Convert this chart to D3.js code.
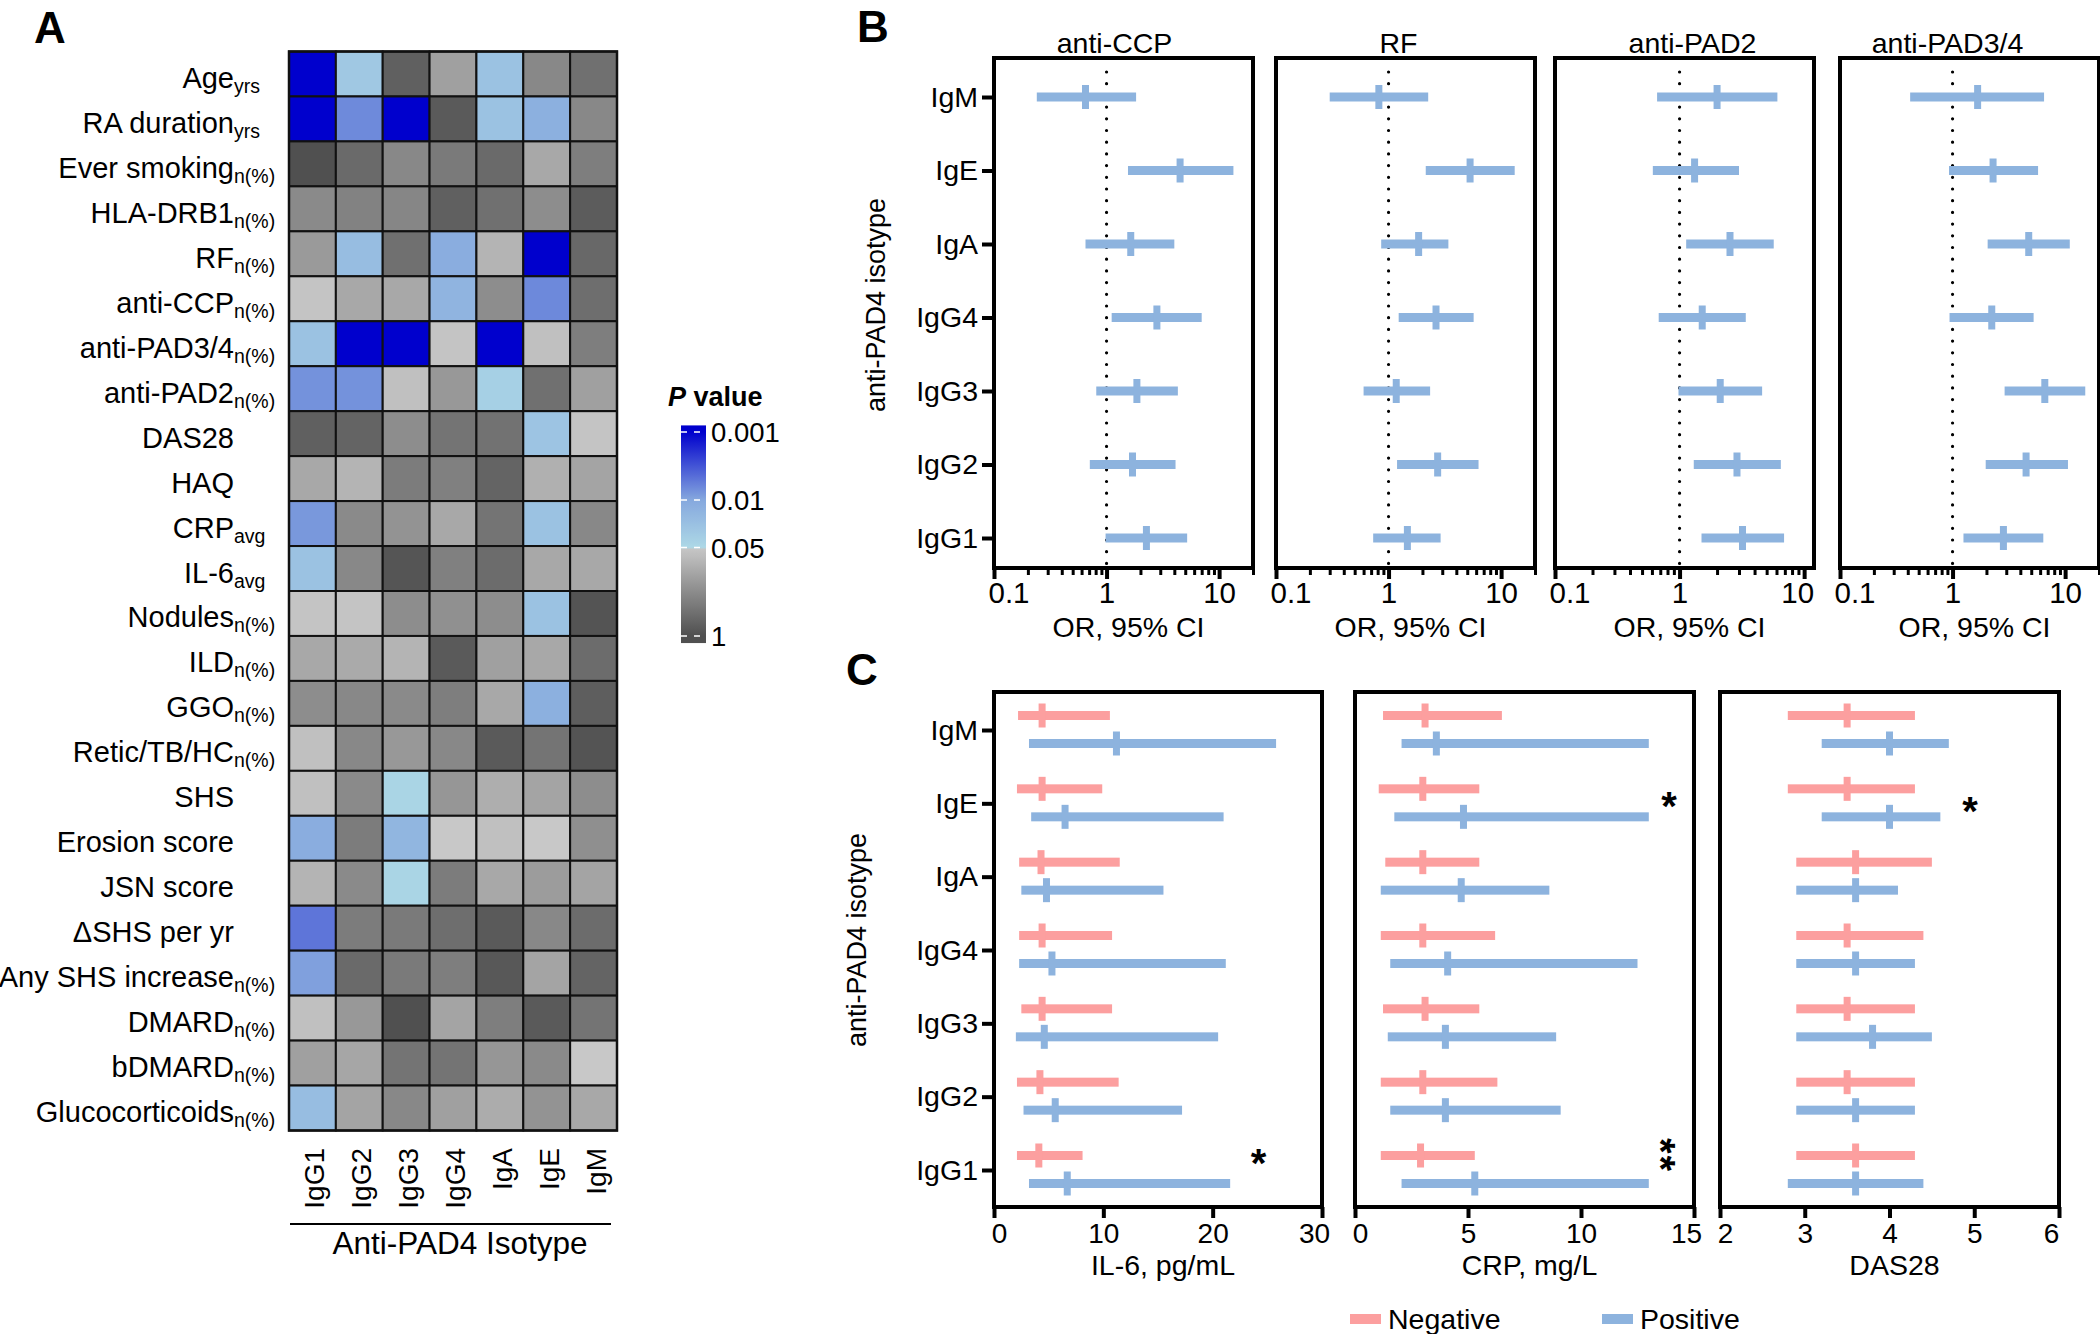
<!DOCTYPE html>
<html>
<head>
<meta charset="utf-8">
<script src="https://cdn.jsdelivr.net/npm/d3@7"></script>
<style>
body { margin:0; background:#fff; }
svg text { font-family: "Liberation Sans", Arial, sans-serif; fill:#000; }
</style>
</head>
<body>
<svg id="fig"></svg>
<script>
// ---------- data: panel A (p values, rows x isotypes) ----------
var isotypes = ["IgG1","IgG2","IgG3","IgG4","IgA","IgE","IgM"];
var clinicalVars = ["Age","RA duration","Ever smoking","HLA-DRB1","RF","anti-CCP","anti-PAD3/4","anti-PAD2",
  "DAS28","HAQ","CRP","IL-6","Nodules","ILD","GGO","Retic/TB/HC","SHS","Erosion score","JSN score",
  "\u0394SHS per yr","Any SHS increase","DMARD","bDMARD","Glucocorticoids"];
var clinicalSubs = ["yrs","yrs","n(%)","n(%)","n(%)","n(%)","n(%)","n(%)","","","avg","avg",
  "n(%)","n(%)","n(%)","n(%)","","","","","n(%)","n(%)","n(%)","n(%)"];
var pValues = [
  [0.001, 0.029, 0.67, 0.136, 0.024, 0.247, 0.45],
  [0.001, 0.0066, 0.001, 0.78, 0.024, 0.013, 0.247],
  [1.0, 0.52, 0.247, 0.35, 0.52, 0.111, 0.317],
  [0.235, 0.287, 0.26, 0.67, 0.45, 0.22, 0.74],
  [0.158, 0.02, 0.45, 0.012, 0.082, 0.001, 0.55],
  [0.055, 0.111, 0.111, 0.015, 0.22, 0.0065, 0.47],
  [0.024, 0.001, 0.001, 0.055, 0.001, 0.061, 0.317],
  [0.0074, 0.0074, 0.061, 0.166, 0.038, 0.45, 0.136],
  [0.67, 0.61, 0.22, 0.41, 0.43, 0.026, 0.055],
  [0.111, 0.082, 0.33, 0.30, 0.61, 0.091, 0.123],
  [0.008, 0.235, 0.19, 0.111, 0.41, 0.024, 0.247],
  [0.024, 0.247, 0.88, 0.30, 0.50, 0.111, 0.111],
  [0.055, 0.055, 0.22, 0.20, 0.22, 0.024, 0.91],
  [0.111, 0.106, 0.082, 0.78, 0.136, 0.111, 0.50],
  [0.22, 0.247, 0.235, 0.317, 0.111, 0.013, 0.70],
  [0.061, 0.247, 0.166, 0.247, 0.78, 0.41, 0.91],
  [0.061, 0.235, 0.045, 0.174, 0.096, 0.123, 0.22],
  [0.012, 0.33, 0.016, 0.05, 0.061, 0.05, 0.21],
  [0.082, 0.235, 0.045, 0.33, 0.111, 0.15, 0.123],
  [0.005, 0.33, 0.35, 0.47, 0.78, 0.247, 0.50],
  [0.009, 0.52, 0.35, 0.317, 0.82, 0.123, 0.61],
  [0.061, 0.166, 1.0, 0.123, 0.317, 0.78, 0.41],
  [0.136, 0.117, 0.41, 0.41, 0.174, 0.235, 0.05],
  [0.02, 0.123, 0.247, 0.136, 0.10, 0.19, 0.111]
];
var pTicks = [0.001, 0.01, 0.05, 1];
var pTickLabels = ["0.001", "0.01", "0.05", "1"];

// ---------- data: panel B (odds ratio, lower, upper) ----------
var forestRows = ["IgM","IgE","IgA","IgG4","IgG3","IgG2","IgG1"];
var orTitles = ["anti-CCP","RF","anti-PAD2","anti-PAD3/4"];
var orAntiCCP = [[0.65,0.24,1.83],[4.5,1.55,13.4],[1.64,0.65,4.0],[2.8,1.11,7.0],[1.86,0.81,4.3],[1.7,0.71,4.1],[2.26,0.98,5.2]];
var orRF      = [[0.82,0.30,2.25],[5.3,2.14,13.2],[1.85,0.86,3.4],[2.64,1.23,5.7],[1.17,0.60,2.34],[2.73,1.19,6.3],[1.47,0.73,2.9]];
var orPAD2    = [[2.0,0.66,6.1],[1.32,0.61,3.0],[2.54,1.13,5.7],[1.52,0.68,3.4],[2.12,0.98,4.6],[2.89,1.3,6.5],[3.2,1.5,6.9]];
var orPAD34   = [[1.67,0.42,6.5],[2.29,0.93,5.75],[4.75,2.05,11.0],[2.23,0.94,5.25],[6.6,2.9,15.1],[4.5,1.97,10.6],[2.83,1.25,6.4]];
var orMajorTicks = [0.1, 1, 10];
var orMinorTicks = [0.2,0.3,0.4,0.5,0.6,0.7,0.8,0.9,2,3,4,5,6,7,8,9,20];

// ---------- data: panel C (centre, lower, upper) ----------
var il6Neg = [[4.4,2.2,10.6],[4.4,2.1,9.9],[4.3,2.3,11.5],[4.4,2.3,10.8],[4.4,2.5,10.8],[4.2,2.1,11.4],[4.1,2.1,8.1]];
var il6Pos = [[11.2,3.2,25.8],[6.5,3.4,21.0],[4.8,2.5,15.5],[5.3,2.3,21.2],[4.6,2.0,20.5],[5.6,2.7,17.2],[6.7,3.2,21.6]];
var crpNeg = [[3.1,1.24,6.5],[3.0,1.05,5.5],[3.0,1.34,5.5],[3.0,1.14,6.2],[3.1,1.24,5.5],[3.0,1.14,6.3],[2.9,1.14,5.3]];
var crpPos = [[3.6,2.06,13.0],[4.8,1.74,13.0],[4.7,1.14,8.6],[4.1,1.56,12.5],[4.0,1.45,8.9],[4.0,1.56,9.1],[5.3,2.06,13.0]];
var das28Neg = [[3.5,2.8,4.3],[3.5,2.8,4.3],[3.6,2.9,4.5],[3.5,2.9,4.4],[3.5,2.9,4.3],[3.5,2.9,4.3],[3.6,2.9,4.3]];
var das28Pos = [[4.0,3.2,4.7],[4.0,3.2,4.6],[3.6,2.9,4.1],[3.6,2.9,4.3],[3.8,2.9,4.5],[3.6,2.9,4.3],[3.6,2.8,4.4]];
var il6Sig = [["IgG1","*"]];
var crpSig = [["IgE","*"],["IgG1","**"]];
var das28Sig = [["IgE","*"]];
var legendLabels = ["Negative","Positive"];

var negColor = "#fc9f9f", posColor = "#8db3de";

var svg = d3.select("#fig").attr("width", 2100).attr("height", 1334);

function panelLetter(t, x, y){
  svg.append("text").attr("x", x).attr("y", y).attr("font-size", 44)
    .attr("font-weight", "bold").text(t);
}
panelLetter("A", 34, 43);
panelLetter("B", 857, 42);
panelLetter("C", 846, 685);

// ================= Panel A : heatmap =================
var blueScale = d3.scaleLog().domain([0.001, 0.01, 0.05])
  .range(["#0000cd", "#86a8de", "#add8e6"]).clamp(true);
var grayScale = d3.scaleLog().domain([0.05, 1])
  .range(["#c8c8c8", "#505050"]).clamp(true);
var pColor = function(p){ return p < 0.05 ? blueScale(p) : grayScale(p); };

var hx = d3.scaleBand().domain(isotypes).range([289, 617]);
var hy = d3.scaleBand().domain(clinicalVars).range([51.5, 1130.5]);

var cells = [];
clinicalVars.forEach(function(v, i){
  isotypes.forEach(function(iso, j){ cells.push({v: v, iso: iso, p: pValues[i][j]}); });
});
var heat = svg.append("g");
heat.selectAll("rect").data(cells).enter().append("rect")
  .attr("x", function(d){ return hx(d.iso); })
  .attr("y", function(d){ return hy(d.v); })
  .attr("width", hx.bandwidth()).attr("height", hy.bandwidth())
  .attr("fill", function(d){ return pColor(d.p); })
  .attr("stroke", "#111").attr("stroke-width", 2);
heat.append("rect").attr("x", 289).attr("y", 51.5).attr("width", 328).attr("height", 1079)
  .attr("fill", "none").attr("stroke", "#111").attr("stroke-width", 2.5);

// row labels with subscripts
clinicalVars.forEach(function(v, i){
  var yb = hy(v) + hy.bandwidth() / 2 + 14;
  svg.append("text").attr("x", 234).attr("y", yb).attr("text-anchor", "end")
    .attr("font-size", 29).text(v);
  if (clinicalSubs[i]) {
    svg.append("text").attr("x", 234).attr("y", yb + 5).attr("font-size", 19.5).text(clinicalSubs[i]);
  }
});
// column labels
svg.selectAll("text.col").data(isotypes).enter().append("text")
  .attr("class", "col").attr("text-anchor", "end").attr("font-size", 28)
  .attr("transform", function(d){ return "translate(" + (hx(d) + hx.bandwidth()/2 + 12) + ",1148) rotate(-90)"; })
  .text(function(d){ return d; });
svg.append("line").attr("x1", 290).attr("x2", 611).attr("y1", 1224).attr("y2", 1224)
  .attr("stroke", "#000").attr("stroke-width", 2);
svg.append("text").attr("x", 460).attr("y", 1254).attr("text-anchor", "middle")
  .attr("font-size", 31.5).text("Anti-PAD4 Isotype");

// colour bar
var cbY = d3.scaleLog().domain([0.001, 1]).range([432, 636]);
var defs = svg.append("defs");
var grad = defs.append("linearGradient").attr("id", "pgrad")
  .attr("x1", 0).attr("x2", 0).attr("y1", 0).attr("y2", 1);
var cbTop = 0.0008, cbBot = 1.27;
d3.range(0, 101).forEach(function(k){
  var lp = Math.log10(cbTop) + (Math.log10(cbBot) - Math.log10(cbTop)) * k / 100;
  grad.append("stop").attr("offset", k + "%").attr("stop-color", pColor(Math.pow(10, lp)));
});
svg.append("rect").attr("x", 681).attr("y", cbY(cbTop)).attr("width", 25)
  .attr("height", cbY(cbBot) - cbY(cbTop)).attr("fill", "url(#pgrad)");
var cbt = svg.append("g");
pTicks.forEach(function(p, i){
  cbt.append("line").attr("x1", 681).attr("x2", 706).attr("y1", cbY(p)).attr("y2", cbY(p))
    .attr("stroke", "#fff").attr("stroke-width", 1.5).attr("stroke-dasharray", "6,7");
  cbt.append("text").attr("x", 711).attr("y", cbY(p) + 10).attr("font-size", 27.5).text(pTickLabels[i]);
});
var pt = svg.append("text").attr("x", 668).attr("y", 406).attr("font-size", 27).attr("font-weight", "bold");
pt.append("tspan").attr("font-style", "italic").text("P");
pt.append("tspan").text(" value");

// ================= forest panels (B, C) =================
function forestPanel(cfg){
  var g = svg.append("g");
  var x = (cfg.log ? d3.scaleLog() : d3.scaleLinear()).domain(cfg.domain).range([cfg.left, cfg.right]);
  var y = d3.scalePoint().domain(forestRows).range(cfg.rows);

  if (cfg.refLine) {
    g.append("line").attr("x1", x(1)).attr("x2", x(1)).attr("y1", cfg.top + 14).attr("y2", cfg.bottom)
      .attr("stroke", "#000").attr("stroke-width", 3.2).attr("stroke-linecap", "round")
      .attr("stroke-dasharray", "0,11.7");
  }
  cfg.series.forEach(function(s){
    var sg = g.append("g");
    sg.selectAll("rect.ci").data(s.data).enter().append("rect").attr("class", "ci")
      .attr("x", function(d){ return x(d[1]); })
      .attr("width", function(d){ return x(d[2]) - x(d[1]); })
      .attr("y", function(d, i){ return y(forestRows[i]) + s.dy - 4.5; })
      .attr("height", 9).attr("fill", s.color);
    sg.selectAll("rect.pt").data(s.data).enter().append("rect").attr("class", "pt")
      .attr("x", function(d){ return x(d[0]) - 3.5; })
      .attr("width", 7)
      .attr("y", function(d, i){ return y(forestRows[i]) + s.dy - 12; })
      .attr("height", 24).attr("fill", s.color);
  });

  g.append("rect").attr("x", cfg.left).attr("y", cfg.top)
    .attr("width", cfg.right - cfg.left).attr("height", cfg.bottom - cfg.top)
    .attr("fill", "none").attr("stroke", "#000").attr("stroke-width", 4);

  // x axis
  var ax = g.append("g").attr("transform", "translate(0," + cfg.bottom + ")")
    .call(d3.axisBottom(x).tickValues(cfg.ticks).tickFormat(cfg.fmt).tickSize(11));
  ax.select(".domain").remove();
  ax.selectAll("line").attr("stroke-width", 4);
  ax.selectAll("text").attr("dy", null).attr("y", cfg.labelDy).attr("font-size", cfg.tickFont)
    .attr("x", function(d){
      if (d === cfg.ticks[0]) return cfg.firstShift;
      if (cfg.right - x(d) < 20) return cfg.lastShift;
      return 0;
    });
  if (cfg.log) {
    ax.selectAll("text").filter(function(d){ return d === cfg.domain[0]; })
      .attr("text-anchor", "start").attr("x", -6);
    var mx = g.append("g").attr("transform", "translate(0," + cfg.bottom + ")")
      .call(d3.axisBottom(x).tickValues(orMinorTicks.filter(function(v){ return v <= cfg.domain[1]; }))
        .tickFormat("").tickSize(7));
    mx.select(".domain").remove();
    mx.selectAll("line").attr("stroke-width", 3);
  }
  g.append("text").attr("x", (cfg.left + cfg.right) / 2 + 5).attr("y", cfg.bottom + cfg.titleDy)
    .attr("text-anchor", "middle").attr("font-size", 28.5).text(cfg.xlabel);
  if (cfg.title) {
    g.append("text").attr("x", (cfg.left + cfg.right) / 2 + cfg.titleShift).attr("y", cfg.top - 5)
      .attr("text-anchor", "middle").attr("font-size", 28.5).text(cfg.title);
  }
  if (cfg.yAxis) {
    var ay = g.append("g").attr("transform", "translate(" + (cfg.left - 1) + ",0)")
      .call(d3.axisLeft(y).tickSize(11).tickPadding(4));
    ay.select(".domain").remove();
    ay.selectAll("line").attr("stroke-width", 4);
    ay.selectAll("text").attr("font-size", 28.5);
    g.append("text").attr("transform", "translate(" + cfg.yTitleX + "," + cfg.yTitleY + ") rotate(-90)")
      .attr("text-anchor", "middle").attr("font-size", 27).text("anti-PAD4 isotype");
  }
  if (cfg.sig) {
    cfg.sig.forEach(function(s){
      var sx = x(cfg.starX);
      if (s[1].length > 1) {
        // stacked stars drawn as one rotated text
        g.append("text").attr("transform", "translate(" + (sx - 22) + "," + (y(s[0]) - 14.5) + ") rotate(90)")
          .attr("text-anchor", "middle").attr("font-size", 40).attr("font-weight", "bold")
          .attr("letter-spacing", 2).text(s[1]);
      } else {
        g.append("text").attr("x", sx).attr("y", y(s[0]) + cfg.starDy + 22).attr("text-anchor", "middle")
          .attr("font-size", 40).attr("font-weight", "bold").text(s[1]);
      }
    });
  }
}

var orData = [orAntiCCP, orRF, orPAD2, orPAD34];
var bLefts = [994, 1276, 1555, 1840];
var bDomainMax = [20, 20, 12, 20];
var bTitleShift = [-9, -7, 8, -22];
orData.forEach(function(d, i){
  forestPanel({
    log: true, domain: [0.1, bDomainMax[i]], left: bLefts[i], right: bLefts[i] + 259,
    top: 58, bottom: 568, rows: [97, 538], refLine: true,
    series: [{data: d, color: posColor, dy: 0}],
    ticks: orMajorTicks, fmt: d3.format(""), labelDy: 35, tickFont: 29.5,
    firstShift: 0, lastShift: -7,
    xlabel: "OR, 95% CI", titleDy: 69, title: orTitles[i], titleShift: bTitleShift[i],
    yAxis: i === 0, yTitleX: 885, yTitleY: 305
  });
});

var cPanels = [
  {domain: [0, 30], left: 994, right: 1322, neg: il6Neg, pos: il6Pos, ticks: [0,10,20,30], xlabel: "IL-6, pg/mL", sig: il6Sig, starX: 24.2, starDy: -15},
  {domain: [0, 15], left: 1355, right: 1694, neg: crpNeg, pos: crpPos, ticks: [0,5,10,15], xlabel: "CRP, mg/L", sig: crpSig, starX: 13.9, starDy: -5},
  {domain: [2, 6], left: 1720, right: 2059, neg: das28Neg, pos: das28Pos, ticks: [2,3,4,5,6], xlabel: "DAS28", sig: das28Sig, starX: 4.95, starDy: 0}
];
cPanels.forEach(function(c, i){
  forestPanel({
    log: false, domain: c.domain, left: c.left, right: c.right,
    top: 692, bottom: 1207, rows: [730, 1170], refLine: false,
    series: [{data: c.neg, color: negColor, dy: -14.5}, {data: c.pos, color: posColor, dy: 13.5}],
    ticks: c.ticks, fmt: d3.format("d"), labelDy: 36, tickFont: 28,
    firstShift: 5, lastShift: -8,
    xlabel: c.xlabel, titleDy: 68,
    yAxis: i === 0, yTitleX: 866, yTitleY: 940,
    sig: c.sig, starX: c.starX, starDy: c.starDy
  });
});

// legend
var legX = [1350, 1602];
legendLabels.forEach(function(l, i){
  svg.append("rect").attr("x", legX[i]).attr("y", 1314).attr("width", 31).attr("height", 10)
    .attr("fill", i === 0 ? negColor : posColor);
  svg.append("text").attr("x", legX[i] + 38).attr("y", 1329).attr("font-size", 28.5).text(l);
});
</script>
</body>
</html>
